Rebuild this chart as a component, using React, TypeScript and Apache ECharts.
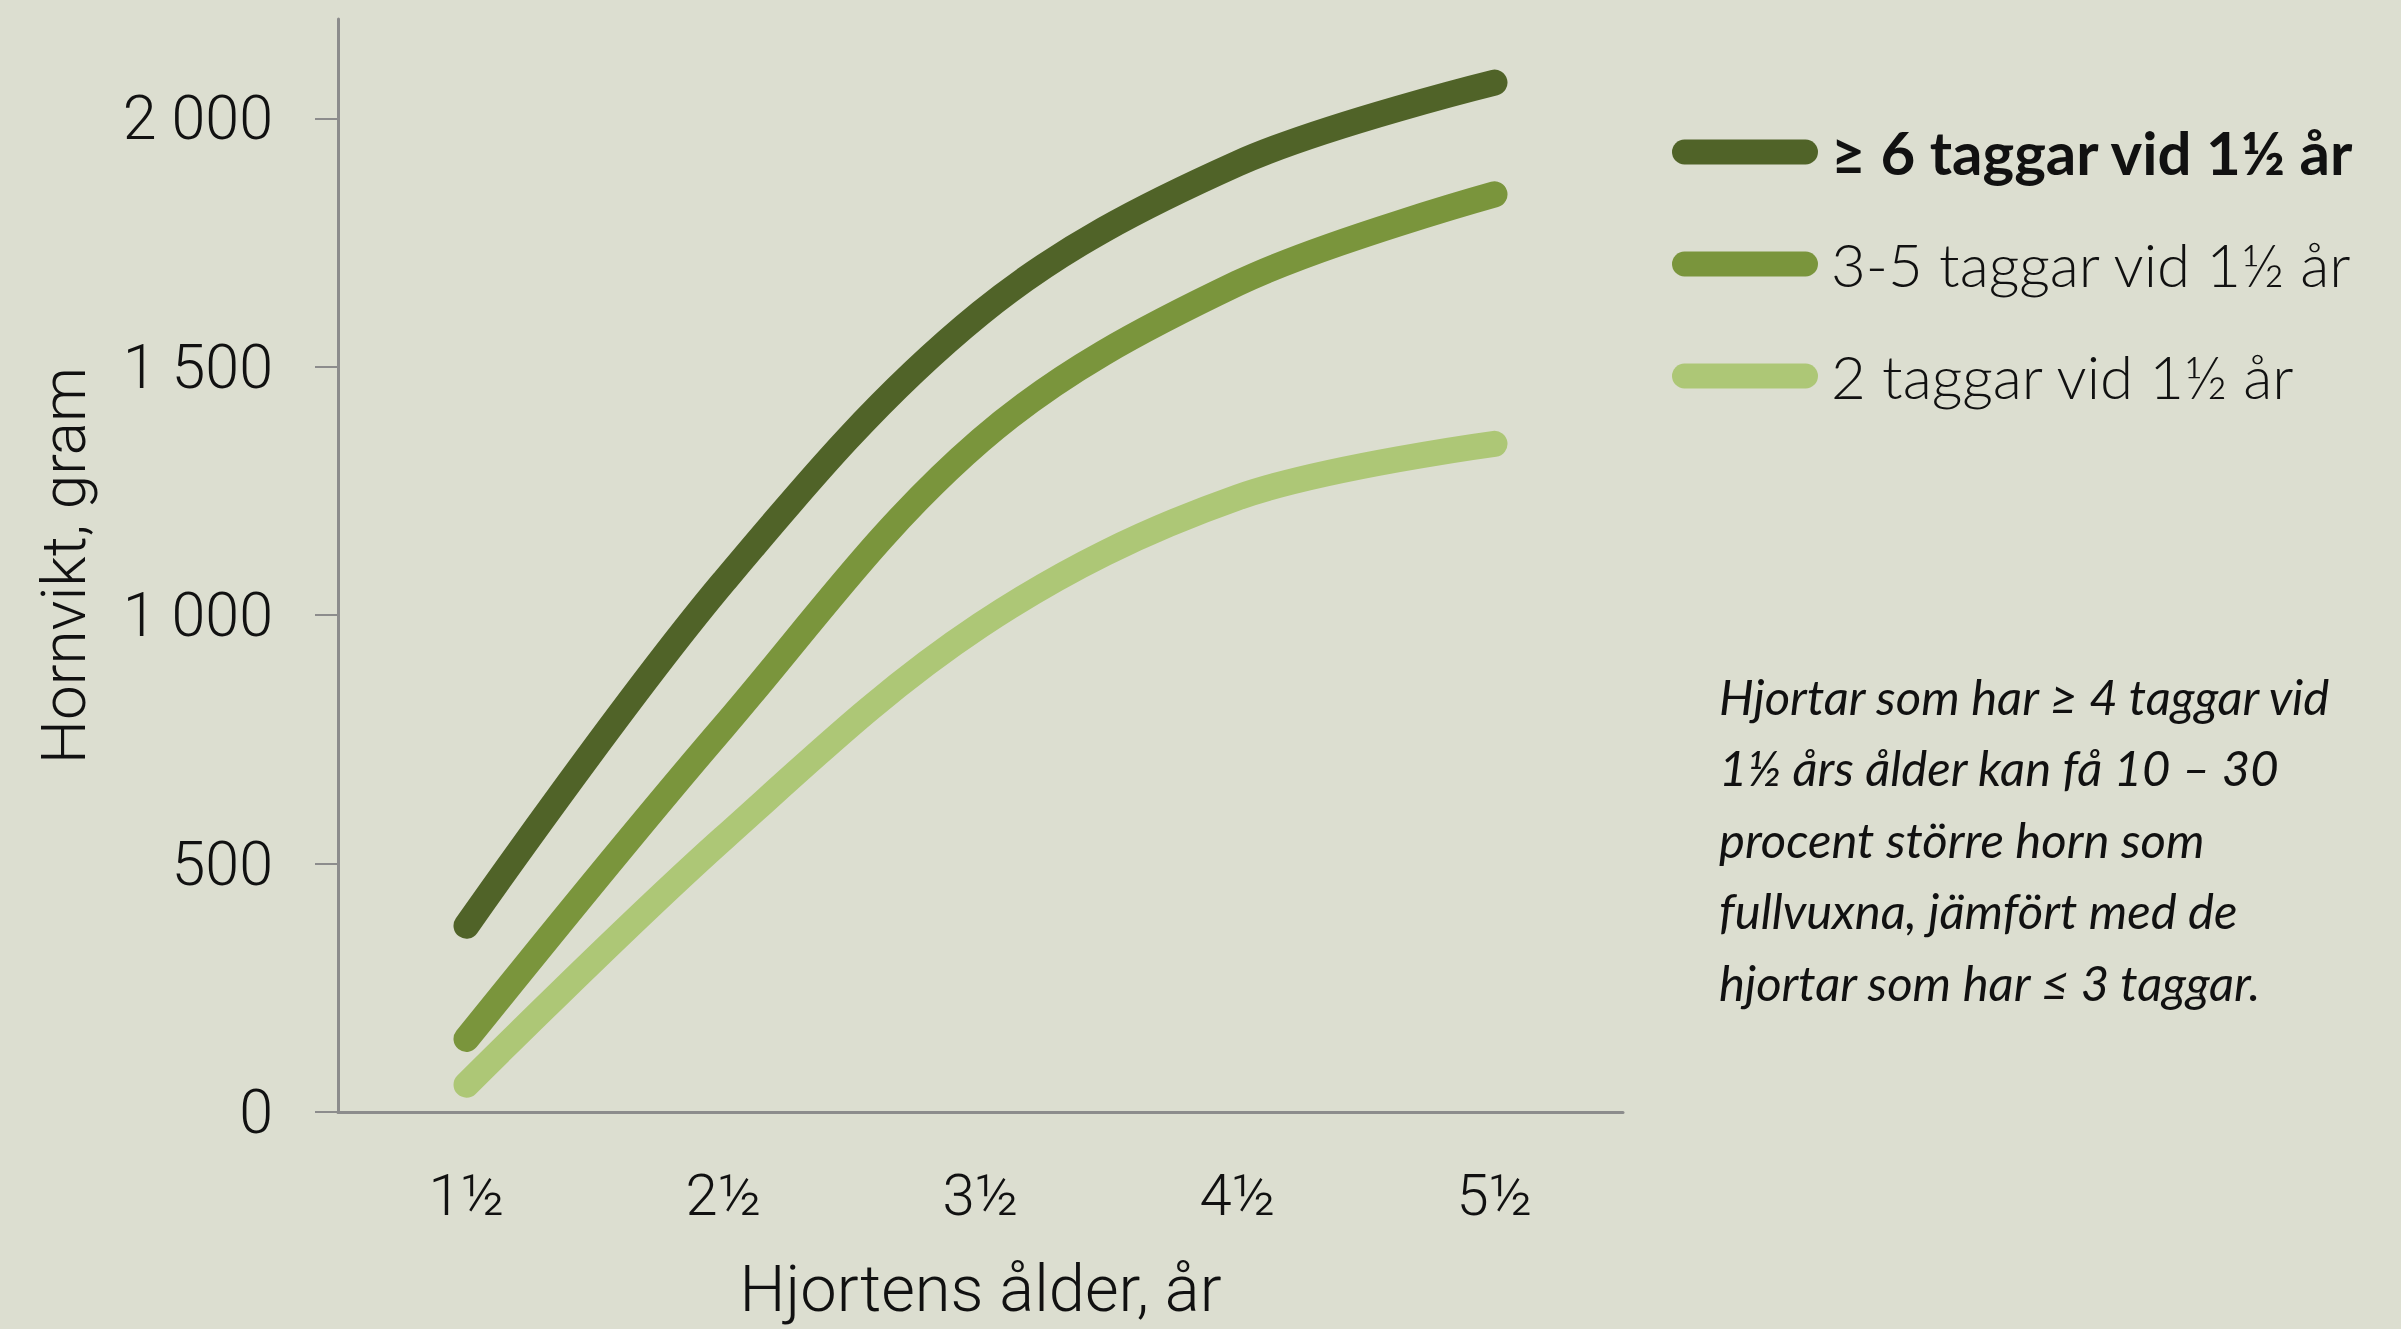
import React, { useEffect, useRef } from "react";
import * as echarts from "echarts";

const categories = ["1½", "2½", "3½", "4½", "5½"];
const seriesNames = ["≥ 6 taggar vid 1½ år", "3-5 taggar vid 1½ år", "2 taggar vid 1½ år"];
const darkValues = [375, 1067, 1608, 1909, 2072];
const midValues = [147, 775, 1352, 1668, 1847];
const lightValues = [55, 551, 980, 1237, 1345];
const yTickValues = [0, 500, 1000, 1500, 2000];
const noteLines = [
  "Hjortar som har ≥ 4 taggar vid",
  "1½ års ålder kan få 10 – 30",
  "procent större horn som",
  "fullvuxna, jämfört med de",
  "hjortar som har ≤ 3 taggar.",
];

const colors = ["#506328", "#7a953c", "#adc776"];
const THIN = "Roboto";
const PILL = "path://M12.5,0 L133.5,0 A12.5,12.5 0 0 1 133.5,25 L12.5,25 A12.5,12.5 0 0 1 12.5,0 Z";

export default function App() {
  const ref = useRef<HTMLDivElement>(null);
  useEffect(() => {
    if (!ref.current) return;
    const chart = echarts.init(ref.current, undefined, { renderer: "svg" });
    const values = [darkValues, midValues, lightValues];
    const fmt = (v: number) => (v >= 1000 ? `${Math.floor(v / 1000)} ${String(v % 1000).padStart(3, "0")}` : String(v));
    chart.setOption({
      animation: false,
      backgroundColor: "#dcded0",
      grid: { left: 338, right: 778, top: 19, bottom: 217, containLabel: false },
      legend: {
        orient: "vertical",
        left: 1667,
        top: 117,
        itemWidth: 146,
        itemHeight: 25,
        itemGap: 52,
        icon: PILL,
        selectedMode: false,
        data: seriesNames,
        formatter: (name: string) => (name === seriesNames[0] ? `{b|${name}}` : `{n|${name}}`),
        textStyle: {
          padding: [0, 0, 0, 8],
          rich: {
            b: { fontFamily: "Lato", fontWeight: "bold", fontSize: 60, color: "#111", lineHeight: 70 },
            n: { fontFamily: "Lato", fontWeight: 300, fontSize: 60, color: "#111", lineHeight: 70 },
          },
        },
      },
      xAxis: {
        type: "category",
        data: categories,
        boundaryGap: true,
        name: "Hjortens ålder, år",
        nameLocation: "middle",
        nameGap: 144,
        nameTextStyle: { fontFamily: THIN, fontWeight: 300, fontSize: 65, color: "#111" },
        axisLine: { lineStyle: { color: "#8c8c8c", width: 3 } },
        axisTick: { length: 21, lineStyle: { color: "#8c8c8c", width: 2 } },
        axisLabel: { fontFamily: THIN, fontWeight: 300, fontSize: 58, color: "#111", margin: 54 },
      },
      yAxis: {
        type: "value",
        min: 0,
        max: 2200,
        interval: 500,
        name: "Hornvikt, gram",
        nameLocation: "middle",
        nameGap: 244,
        nameTextStyle: { fontFamily: THIN, fontWeight: 300, fontSize: 62, color: "#111" },
        splitLine: { show: false },
        axisLine: { show: true, lineStyle: { color: "#8c8c8c", width: 3 } },
        axisTick: { show: true, length: 23, customValues: yTickValues, lineStyle: { color: "#8c8c8c", width: 2 } },
        axisLabel: {
          customValues: yTickValues,
          fontFamily: THIN,
          fontWeight: 300,
          fontSize: 61,
          color: "#111",
          margin: 65,
          formatter: (v: number) => fmt(v),
        },
      },
      series: values.map((vals, i) => ({
        name: seriesNames[i],
        type: "line",
        data: vals,
        smooth: 0.35,
        showSymbol: false,
        symbol: "none",
        z: 10 - i,
        itemStyle: { color: colors[i] },
        lineStyle: { color: colors[i], width: 26, cap: "round", join: "round" },
      })),
      graphic: [
        {
          type: "text",
          left: 1719,
          top: 660,
          style: {
            text: noteLines.join("\n"),
            fontFamily: "Lato",
            fontStyle: "italic",
            fontSize: 49,
            lineHeight: 71.5,
            fill: "#111",
          },
        },
      ],
    });
    return () => chart.dispose();
  }, []);
  return <div ref={ref} style={{ position: "fixed", left: 0, top: 0, width: 2401, height: 1329 }} />;
}
